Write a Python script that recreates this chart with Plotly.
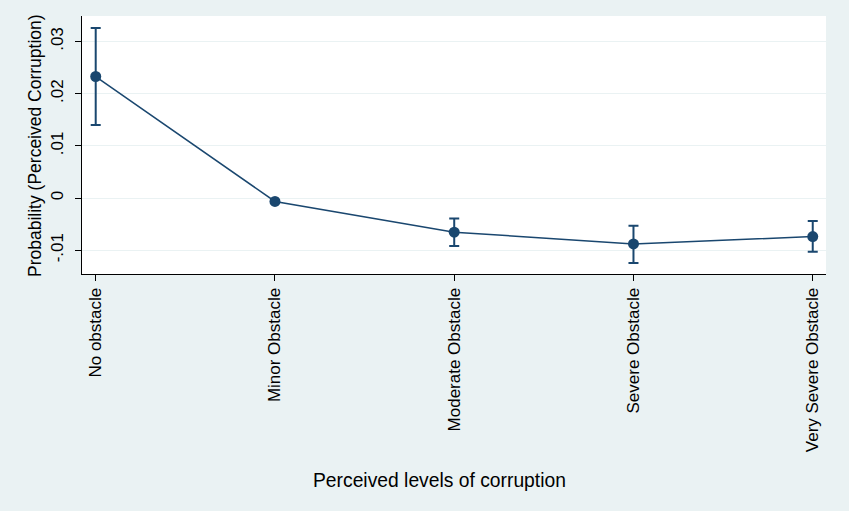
import plotly.graph_objects as go

categories = ["No obstacle", "Minor Obstacle", "Moderate Obstacle", "Severe Obstacle", "Very Severe Obstacle"]
estimates = [0.0233, -0.00065, -0.00654, -0.0088, -0.00738]
upper = [0.0326, -0.00045, -0.0039, -0.0053, -0.0044]
lower = [0.0140, -0.00085, -0.0092, -0.01245, -0.0103]
y_ticks = [-0.01, 0, 0.01, 0.02, 0.03]
y_tick_labels = ["-.01", "0", ".01", ".02", ".03"]

x_idx = list(range(len(categories)))
err_plus = [u - e for u, e in zip(upper, estimates)]
err_minus = [e - l for e, l in zip(estimates, lower)]

navy = "#1A476F"
bg = "#EAF2F3"
font = "Liberation Sans, Arial, sans-serif"

fig = go.Figure()
fig.add_trace(go.Scatter(
    x=x_idx, y=estimates, mode="lines+markers",
    line=dict(color=navy, width=1.5),
    marker=dict(color=navy, size=11),
    error_y=dict(type="data", array=err_plus, arrayminus=err_minus,
                 color=navy, thickness=2, width=5, symmetric=False),
    showlegend=False,
))

fig.update_layout(
    width=849, height=511,
    margin=dict(l=82, r=23, t=16, b=237),
    paper_bgcolor=bg, plot_bgcolor="white",
    font=dict(family=font, color="black", size=16),
    xaxis=dict(
        range=[-0.0765, 4.074], tickmode="array", tickvals=x_idx, ticktext=categories,
        tickangle=-90, ticks="outside", ticklen=6, tickcolor="black",
        showline=True, linecolor="black", linewidth=1, showgrid=False, zeroline=False,
        tickfont=dict(size=17, family=font, color="black"),
    ),
    yaxis=dict(
        range=[-0.01456, 0.0349], tickmode="array", tickvals=y_ticks, ticktext=y_tick_labels,
        tickangle=-90, ticks="outside", ticklen=6, tickcolor="black", ticklabelstandoff=5,
        showline=True, linecolor="black", linewidth=1,
        showgrid=True, gridcolor=bg, gridwidth=1.2, zeroline=False,
        tickfont=dict(size=17, family=font, color="black"),
    ),
    annotations=[
        dict(text="Perceived levels of corruption", xref="paper", yref="paper",
             x=0.481, y=(274 - 480) / 258, xanchor="center", yanchor="middle",
             showarrow=False, font=dict(size=19.3, family=font, color="black")),
        dict(text="Probability (Perceived Corruption)", xref="paper", yref="paper",
             x=(35 - 82) / 744, y=(274 - 146) / 258, xanchor="center", yanchor="middle",
             textangle=-90, showarrow=False, font=dict(size=17.5, family=font, color="black")),
    ],
)

fig.write_html("out.html", config={"displayModeBar": False},
               post_script="document.body.style.margin='0';document.body.style.overflow='hidden';")
